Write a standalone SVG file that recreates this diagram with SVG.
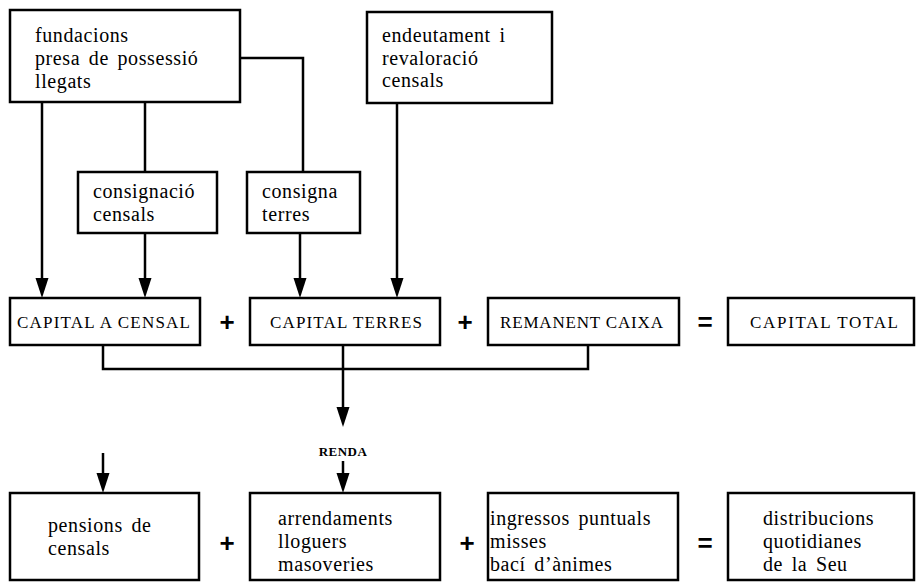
<svg xmlns="http://www.w3.org/2000/svg" width="920" height="585" viewBox="0 0 920 585">
<style>
.box{fill:#fff;stroke:#000;stroke-width:2.5}
.t{font-family:"Liberation Serif","Times New Roman",serif;font-size:20px;letter-spacing:0.6px;fill:#000;word-spacing:3px}
.c{font-family:"Liberation Serif","Times New Roman",serif;font-size:17px;fill:#000}
.op{font-family:"Liberation Sans",Arial,sans-serif;font-size:26px;font-weight:bold;fill:#000;text-anchor:middle}
.ln{fill:none;stroke:#000;stroke-width:2.5}
.ar{fill:none;stroke:#000;stroke-width:2.5;marker-end:url(#ah)}
</style>
<defs>
<marker id="ah" markerUnits="userSpaceOnUse" markerWidth="22" markerHeight="16" viewBox="0 -8 22 16" refX="14" refY="0" orient="auto">
<path d="M0,-6.5 L20,0 L0,6.5 z" fill="#000"/>
</marker>
</defs>
<rect width="920" height="585" fill="#fff"/>

<g id="connectors">
<polyline class="ln" points="240,58 303,58 303,172"/>
<line class="ln" x1="145" y1="102" x2="145" y2="172"/>
<line class="ar" x1="42" y1="102" x2="42" y2="292"/>
<line class="ar" x1="145" y1="233" x2="145" y2="292"/>
<line class="ar" x1="300" y1="233" x2="300" y2="292"/>
<line class="ar" x1="397" y1="103" x2="397" y2="292"/>
<polyline class="ln" points="103,345 103,369 588,369 588,345"/>
<line class="ar" x1="343" y1="345" x2="343" y2="421"/>
<line class="ar" x1="343" y1="461" x2="343" y2="487"/>
<line class="ar" x1="103" y1="453" x2="103" y2="487"/>
</g>

<g id="n-fundacions">
<rect class="box" x="10" y="10" width="230" height="92"/>
<text class="t" x="35" y="42">fundacions</text>
<text class="t" x="35" y="65">presa de possessió</text>
<text class="t" x="35" y="88">llegats</text>
</g>

<g id="n-endeutament">
<rect class="box" x="367" y="12" width="185" height="91"/>
<text class="t" x="382" y="42">endeutament i</text>
<text class="t" x="382" y="65">revaloració</text>
<text class="t" x="382" y="87">censals</text>
</g>

<g id="n-consignacio">
<rect class="box" x="78" y="172" width="139" height="61"/>
<text class="t" x="93" y="198">consignació</text>
<text class="t" x="93" y="221">censals</text>
</g>

<g id="n-consigna">
<rect class="box" x="247" y="172" width="113" height="61"/>
<text class="t" x="262" y="198">consigna</text>
<text class="t" x="262" y="221">terres</text>
</g>

<g id="n-capital-censal">
<rect class="box" x="10" y="298" width="190" height="47"/>
<text class="c" x="17" y="328" textLength="173" lengthAdjust="spacing">CAPITAL A CENSAL</text>
</g>
<text class="op" x="227" y="331">+</text>

<g id="n-capital-terres">
<rect class="box" x="250" y="298" width="190" height="47"/>
<text class="c" x="270" y="328" textLength="152" lengthAdjust="spacing">CAPITAL TERRES</text>
</g>
<text class="op" x="465" y="331">+</text>

<g id="n-remanent">
<rect class="box" x="488" y="298" width="191" height="47"/>
<text class="c" x="500" y="328" textLength="163" lengthAdjust="spacing">REMANENT CAIXA</text>
</g>
<text class="op" x="705" y="331">=</text>

<g id="n-capital-total">
<rect class="box" x="728" y="298" width="186" height="47"/>
<text class="c" x="750" y="328" textLength="148" lengthAdjust="spacing">CAPITAL TOTAL</text>
</g>

<text x="343" y="456" text-anchor="middle" font-family="Liberation Serif,serif" font-size="13" font-weight="bold" letter-spacing="0.5">RENDA</text>

<g id="n-pensions">
<rect class="box" x="10" y="493" width="189" height="87"/>
<text class="t" x="48" y="532">pensions de</text>
<text class="t" x="48" y="555">censals</text>
</g>
<text class="op" x="227" y="552">+</text>

<g id="n-arrendaments">
<rect class="box" x="250" y="493" width="190" height="87"/>
<text class="t" x="278" y="525">arrendaments</text>
<text class="t" x="278" y="548">lloguers</text>
<text class="t" x="278" y="571">masoveries</text>
</g>
<text class="op" x="467" y="552">+</text>

<g id="n-ingressos">
<rect class="box" x="488" y="493" width="190" height="87"/>
<text class="t" x="490" y="525">ingressos puntuals</text>
<text class="t" x="490" y="548">misses</text>
<text class="t" x="490" y="571">bací d’ànimes</text>
</g>
<text class="op" x="705" y="552">=</text>

<g id="n-distribucions">
<rect class="box" x="728" y="493" width="186" height="87"/>
<text class="t" x="763" y="525">distribucions</text>
<text class="t" x="763" y="548">quotidianes</text>
<text class="t" x="763" y="571">de la Seu</text>
</g>
</svg>
